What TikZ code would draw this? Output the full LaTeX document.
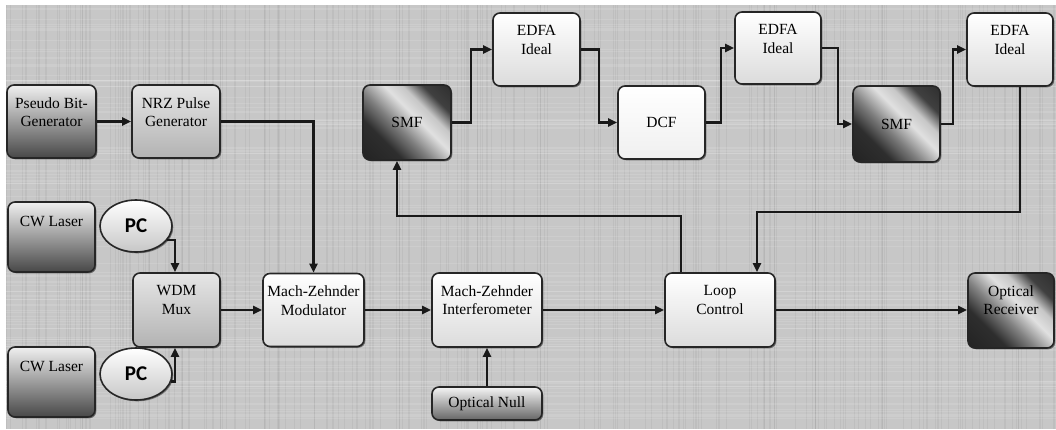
\documentclass[tikz,border=0pt]{standalone}
\usepackage{fontspec}
\setmainfont{Liberation Serif}
\newfontfamily\pcfont{Carlito}
\usetikzlibrary{arrows.meta,shapes.geometric,shadows}
\pgfdeclarehorizontalshading{smfshade}{100bp}{color(0bp)=(black!90); color(32bp)=(black!82); color(44bp)=(black!50); color(56bp)=(black!12); color(64bp)=(black!22); color(73bp)=(black!75); color(100bp)=(black!90)}
\tikzset{
  box/.style={draw=black!85, line width=1.6pt, rounded corners=7pt,
    drop shadow={shadow xshift=1.3pt, shadow yshift=-1.3pt, opacity=.45, fill=black}},
  darkbox/.style={box, top color=black!6, bottom color=black!72},
  midbox/.style={box, top color=black!10, bottom color=black!30},
  litebox/.style={box, top color=white, bottom color=black!14},
  smfbox/.style={box, shading=smfshade, shading angle=45},
  pcell/.style={ellipse, draw=black!85, line width=1.6pt, top color=white, bottom color=black!22,
    drop shadow={shadow xshift=1.3pt, shadow yshift=-1.3pt, opacity=.45, fill=black},
    minimum width=72pt, minimum height=52pt, inner sep=0pt,
    font=\pcfont\bfseries\fontsize{21}{21}\selectfont},
  lbl/.style={font=\fontsize{15.5}{18.5}\selectfont, align=center, text=black, inner sep=0pt},
  arr/.style={line width=2.6pt, draw=black!90, -{Triangle[length=9pt,width=8pt]}},
}
\begin{document}
\begin{tikzpicture}[x=1pt,y=-1pt]
\useasboundingbox (0,0) rectangle (1056,429);
% background
\fill[black!22] (6,5) rectangle (1056,429);
\pgfmathsetseed{7}
\begin{scope}
\clip (6,5) rectangle (1056,429);
\foreach \i in {1,...,220}{
  \pgfmathsetmacro\xx{6+1050*rnd}
  \draw[black!55, opacity=0.10, line width=0.7pt] (\xx,5) -- (\xx,429);
}
\foreach \i in {1,...,120}{
  \pgfmathsetmacro\yy{5+424*rnd}
  \draw[white, opacity=0.12, line width=0.7pt] (6,\yy) -- (1056,\yy);
}
\end{scope}

% blocks
\node[darkbox, minimum width=89pt, minimum height=73pt] (pb) at (51.5,121.5) {};
\node[lbl] (pbt) at ([yshift=-28pt]pb.north) {Pseudo Bit-\\Generator};
\node[midbox, minimum width=88pt, minimum height=73pt] (nrz) at (176,121.5) {};
\node[lbl] (nrzt) at ([yshift=-28pt]nrz.north) {NRZ Pulse\\Generator};

\node[darkbox, minimum width=87pt, minimum height=70pt] (cw1) at (51.5,237) {};
\node[lbl] (cw1t) at ([yshift=-20pt]cw1.north) {CW Laser};
\node[pcell] (pc1) at (136,226) {PC};

\node[midbox, minimum width=87pt, minimum height=74pt] (wdm) at (176.5,310) {};
\node[lbl] (wdmt) at ([yshift=-28pt]wdm.north) {WDM\\Mux};

\node[darkbox, minimum width=87pt, minimum height=70pt] (cw2) at (51.5,382) {};
\node[lbl] (cw2t) at ([yshift=-20pt]cw2.north) {CW Laser};
\node[pcell] (pc2) at (136,374) {PC};

\node[litebox, minimum width=101pt, minimum height=73pt] (mzm) at (313.5,310) {};
\node[lbl] (mzmt) at ([yshift=-28pt]mzm.north) {Mach-Zehnder\\Modulator};

\node[litebox, minimum width=110pt, minimum height=74pt] (mzi) at (487,310) {};
\node[lbl] (mzit) at ([yshift=-28pt]mzi.north) {Mach-Zehnder\\Interferometer};

\node[darkbox, top color=black!4, bottom color=black!60, minimum width=110pt, minimum height=33pt, lbl] (onull) at (487,403.5) {Optical Null};

\node[smfbox, minimum width=88pt, minimum height=75pt, lbl] (smf1) at (407,122.5) {SMF};
\node[litebox, minimum width=87pt, minimum height=73pt] (edfa1) at (536.5,49.5) {};
\node[lbl] (edfa1t) at ([yshift=-28pt]edfa1.north) {EDFA\\Ideal};
\node[litebox, top color=white, bottom color=black!6, minimum width=87pt, minimum height=73pt, lbl] (dcf) at (661.5,122.5) {DCF};
\node[litebox, minimum width=86pt, minimum height=72pt] (edfa2) at (778,48) {};
\node[lbl] (edfa2t) at ([yshift=-28pt]edfa2.north) {EDFA\\Ideal};
\node[smfbox, minimum width=87pt, minimum height=76pt, lbl] (smf2) at (896.5,124) {SMF};
\node[litebox, minimum width=86pt, minimum height=73pt] (edfa3) at (1010,49.5) {};
\node[lbl] (edfa3t) at ([yshift=-28pt]edfa3.north) {EDFA\\Ideal};

\node[litebox, minimum width=110pt, minimum height=74pt] (loop) at (720,310) {};
\node[lbl] (loopt) at ([yshift=-28pt]loop.north) {Loop\\Control};
\node[smfbox, minimum width=86pt, minimum height=75pt] (rx) at (1011,310.5) {};
\node[lbl] (rxt) at ([yshift=-28pt]rx.north) {Optical\\Receiver};

% connectors
\coordinate (c1) at (757,212);
\coordinate (c2) at (397,216);
\draw[arr] (pb.east) -- (nrz.west);
\draw[arr] (nrz.east) -| (mzm.north);
\draw[arr] (pc1.-24) -| ([xshift=-1.5pt]wdm.north);
\draw[arr] (pc2.-12) -| ([xshift=-1.5pt]wdm.south);
\draw[arr] (wdm.east) -- (mzm.west);
\draw[arr] (mzm.east) -- (mzi.west);
\draw[arr] (onull.north) -- (mzi.south);
\draw[arr] (mzi.east) -- (loop.west);
\draw[arr] (loop.east) -- (loop.east -| rx.west);
\draw[arr] (smf1.east) -- ++(19,0) |- (edfa1.west);
\draw[arr] (edfa1.east) -- ++(18,0) |- (dcf.west);
\draw[arr] (dcf.east) -- ++(15,0) |- (edfa2.west);
\draw[arr] (edfa2.east) -- ++(16,0) |- (smf2.west);
\draw[arr] (smf2.east) -- ++(12,0) |- (edfa3.west);
\draw[arr] ([xshift=10pt]edfa3.south) |- (c1) -- (c1 |- loop.north);
\draw[arr] ([xshift=-39pt]loop.north) |- (c2) -- (c2 |- smf1.south);
\end{tikzpicture}
\end{document}
